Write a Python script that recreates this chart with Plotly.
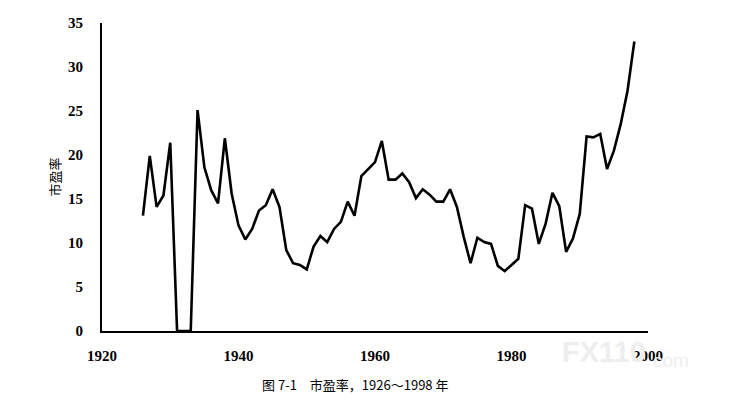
import plotly.graph_objects as go

# P/E ratio, 1926-1998
years = list(range(1926, 1999))
pe = [
    13.1, 19.9, 14.1, 15.4, 21.4, 0.0, 0.0, 0.0, 25.1, 18.6,   # 1926-1935
    16.0, 14.5, 21.9, 15.6, 12.0, 10.4, 11.6, 13.7, 14.3, 16.1,  # 1936-1945
    14.1, 9.2, 7.7, 7.5, 7.0, 9.6, 10.8, 10.1, 11.6, 12.4,       # 1946-1955
    14.7, 13.1, 17.6, 18.4, 19.2, 21.6, 17.2, 17.2, 17.9, 16.9,  # 1956-1965
    15.1, 16.1, 15.5, 14.7, 14.7, 16.1, 14.1, 10.7, 7.7, 10.6,   # 1966-1975
    10.1, 9.9, 7.4, 6.8, 7.5, 8.2, 14.3, 13.9, 9.9, 12.2,        # 1976-1985
    15.7, 14.2, 9.0, 10.5, 13.3, 22.1, 22.0, 22.4, 18.4, 20.5,   # 1986-1995
    23.5, 27.3, 32.9,                                            # 1996-1998
]

x_ticks = [1920, 1940, 1960, 1980, 2000]
y_ticks = [0, 5, 10, 15, 20, 25, 30, 35]

tick_font = dict(family="Liberation Serif", size=15, color="black")

fig = go.Figure()

fig.add_trace(go.Scatter(
    x=years, y=pe,
    mode="lines",
    line=dict(color="black", width=2.6),
    showlegend=False,
))

# faint site watermark
fig.add_annotation(
    x=1.0, y=-0.01, xref="paper", yref="paper",
    text="<b>FX110</b>", showarrow=False,
    font=dict(family="Liberation Sans", size=29, color="#eeeeee"),
    xanchor="right", yanchor="top",
)
fig.add_annotation(
    x=1.005, y=-0.055, xref="paper", yref="paper",
    text="com", showarrow=False,
    font=dict(family="Liberation Sans", size=19, color="#eeeeee"),
    xanchor="left", yanchor="top",
)

# caption under the chart
fig.add_annotation(
    x=0.465, y=-0.135, xref="paper", yref="paper",
    text="图 7-1　市盈率，1926～1998 年", showarrow=False,
    font=dict(family="Noto Sans CJK SC", size=13, color="black"),
    xanchor="center", yanchor="top",
)

fig.update_layout(
    width=747, height=400,
    margin=dict(l=102, r=99, t=23, b=69),
    paper_bgcolor="white",
    plot_bgcolor="white",
    xaxis=dict(
        range=[1920, 2000],
        tickvals=x_ticks,
        ticktext=[f"<b>{t}</b>" for t in x_ticks],
        tickfont=tick_font,
        showgrid=False, zeroline=False,
        showline=True, linecolor="black", linewidth=2,
        ticks="", ticklabelstandoff=10,
    ),
    yaxis=dict(
        range=[0, 35],
        tickvals=y_ticks,
        ticktext=[f"<b>{t}</b>" for t in y_ticks],
        tickfont=tick_font,
        showgrid=False, zeroline=False,
        showline=True, linecolor="black", linewidth=2,
        ticks="", ticklabelstandoff=14,
        title=dict(text="市盈率", standoff=4,
                   font=dict(family="Noto Sans CJK SC", size=13, color="black")),
    ),
)

# drop the browser's default 8px body margin so the figure sits at 0,0
fig.write_html(
    "out.html",
    config={"displayModeBar": False},
    post_script="document.body.style.margin='0';",
)
